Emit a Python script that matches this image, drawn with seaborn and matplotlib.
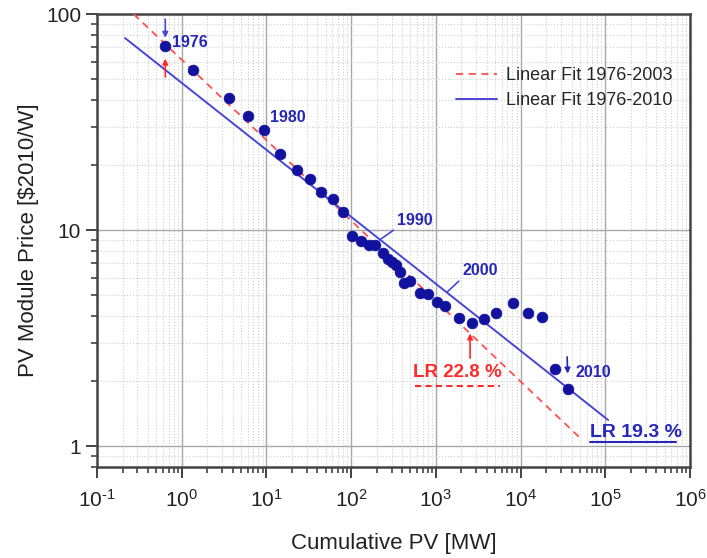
from matplotlib import pyplot as plt
import matplotlib.ticker as mtick
import seaborn as sns

# PV module experience curve, 1976-2010
years = list(range(1976, 2011))
cum_pv = [0.64, 1.36, 3.6, 6.1, 9.4, 14.5, 23, 33, 44, 61, 80, 102, 131, 163, 192,
          238, 273, 304, 339, 377, 421, 495, 650, 809, 1030, 1280, 1880, 2670, 3700,
          5130, 8150, 12250, 17900, 25500, 36400]
price = [71, 55, 40.8, 33.7, 29, 22.5, 19, 17.2, 15, 13.9, 12.1, 9.4, 8.9, 8.5, 8.5,
         7.8, 7.35, 7.1, 6.9, 6.4, 5.7, 5.8, 5.1, 5.06, 4.64, 4.45, 3.92, 3.71, 3.87,
         4.13, 4.6, 4.13, 3.95, 2.27, 1.84]

# end points of the two fitted lines
fit_2003_x = [0.27, 53000]
fit_2003_y = [100, 1.07]
fit_2010_x = [0.214, 108000]
fit_2010_y = [77.4, 1.32]

x_exponents = [-1, 0, 1, 2, 3, 4, 5, 6]
y_ticks = [1, 10, 100]

fit_labels = ['Linear Fit 1976-2003', 'Linear Fit 1976-2010']
lr_labels = ['LR 22.8 %', 'LR 19.3 %']

sns.set_style('white')
plt.rcParams['font.family'] = ['Liberation Sans', 'DejaVu Sans']
plt.rcParams['mathtext.fontset'] = 'custom'
plt.rcParams['mathtext.rm'] = 'Liberation Sans'
plt.rcParams['mathtext.it'] = 'Liberation Sans'
plt.rcParams['axes.unicode_minus'] = False

navy = '#12129e'
blue_line = '#4646d6'
blue_txt = '#2626b8'
red = '#ff2a2a'

fig = plt.figure(figsize=(7.07, 5.58), dpi=100)
ax = fig.add_axes([0.1372, 0.1631, 0.8388, 0.8118])
ax.set_xscale('log')
ax.set_yscale('log')

sns.lineplot(x=fit_2003_x, y=fit_2003_y, ax=ax, color='#ff5050', linestyle=(0, (4, 3)),
             linewidth=1.3, label=fit_labels[0], zorder=3)
sns.lineplot(x=fit_2010_x, y=fit_2010_y, ax=ax, color=blue_line, linewidth=1.4,
             label=fit_labels[1], zorder=3)
sns.scatterplot(x=cum_pv, y=price, ax=ax, color=navy, s=60, edgecolor=navy,
                linewidth=0.5, zorder=4)

ax.set_xlim(0.1, 1e6)
ax.set_ylim(0.8, 100)

# grid
ax.grid(True, which='major', color='#a8a8a8', linewidth=1.0, linestyle='-')
ax.grid(True, which='minor', color='#cfcfcf', linewidth=0.8, linestyle=':')
ax.set_axisbelow(True)

ax.set_xticks([10.0 ** e for e in x_exponents])
ax.set_xticklabels([r'$10^{\text{%s}}$' % e for e in x_exponents])
ax.xaxis.set_minor_locator(mtick.LogLocator(base=10, subs=range(2, 10), numticks=20))
ax.xaxis.set_minor_formatter(mtick.NullFormatter())
ax.set_yticks(y_ticks)
ax.set_yticklabels([str(t) for t in y_ticks])
ax.yaxis.set_minor_formatter(mtick.NullFormatter())
ax.tick_params(which='major', direction='out', length=8, width=1.3, labelsize=15,
               color='#333333', labelcolor='#222222', left=True, bottom=True)
ax.tick_params(which='minor', direction='out', length=4, width=1.1,
               color='#333333', left=True, bottom=True)
ax.tick_params(axis='x', which='major', pad=8)
for sp in ax.spines.values():
    sp.set_color('#444444')
    sp.set_linewidth(1.8)

ax.set_xlabel('Cumulative PV [MW]', fontsize=16, color='#222222', labelpad=16)
ax.set_ylabel('PV Module Price [$2010/W]', fontsize=16, color='#222222', labelpad=5)

leg = ax.legend(loc='upper left', bbox_to_anchor=(0.59, 0.903), frameon=False,
                fontsize=13, handlelength=2.3, handletextpad=0.45, labelspacing=0.45,
                borderpad=0)

# year labels
ann = dict(fontsize=11.5, fontweight='bold', color=blue_txt)
ax.annotate('1976', xy=(cum_pv[0], price[0]), xytext=(7, 4), textcoords='offset pixels',
            ha='left', va='center', **ann)
ax.annotate('', xy=(cum_pv[0], price[0]), xytext=(0, 27), textcoords='offset pixels',
            arrowprops=dict(arrowstyle='-|>', color=blue_line, lw=1.2, shrinkA=0,
                            shrinkB=6, mutation_scale=8))
ax.annotate('', xy=(cum_pv[0], price[0]), xytext=(0, -31), textcoords='offset pixels',
            arrowprops=dict(arrowstyle='-|>', color=red, lw=1.2, shrinkA=0,
                            shrinkB=9, mutation_scale=8))
ax.annotate('1980', xy=(cum_pv[4], price[4]), xytext=(6, 13), textcoords='offset pixels',
            ha='left', va='center', **ann)
ax.annotate('1990', xy=(217, 9.0), xytext=(17, 12), textcoords='offset pixels',
            ha='left', va='bottom', arrowprops=dict(arrowstyle='-', color=blue_line,
            lw=1.2, relpos=(0, 0), shrinkA=0, shrinkB=0), **ann)
ax.annotate('2000', xy=(1355, 5.16), xytext=(15, 14), textcoords='offset pixels',
            ha='left', va='bottom', arrowprops=dict(arrowstyle='-', color=blue_line,
            lw=1.2, relpos=(0, 0), shrinkA=0, shrinkB=0), **ann)
ax.annotate('2010', xy=(cum_pv[-1], price[-1]), xytext=(7, 16), textcoords='offset pixels',
            ha='left', va='center', **ann)
ax.annotate('', xy=(cum_pv[-1], price[-1]), xytext=(-1, 32), textcoords='offset pixels',
            arrowprops=dict(arrowstyle='-|>', color=blue_txt, lw=1.2, shrinkA=0,
                            shrinkB=11, mutation_scale=8))

# learning rate labels
ax.text(1780, 2.18, lr_labels[0], fontsize=13.5, fontweight='bold', color=red,
        ha='center', va='center')
ax.plot([567, 5730], [1.90, 1.90], color=red, linestyle=(0, (3, 2)), linewidth=1.5)
ax.annotate('', xy=(2535, 3.32), xytext=(2535, 2.55),
            arrowprops=dict(arrowstyle='-|>', color=red, lw=1.2, shrinkA=0,
                            shrinkB=0, mutation_scale=8))
ax.text(231000, 1.15, lr_labels[1], fontsize=14, fontweight='bold', color=blue_txt,
        ha='center', va='center')
ax.plot([66000, 686000], [1.04, 1.04], color=blue_txt, linewidth=1.5)

fig.savefig('out.png', dpi=100)
